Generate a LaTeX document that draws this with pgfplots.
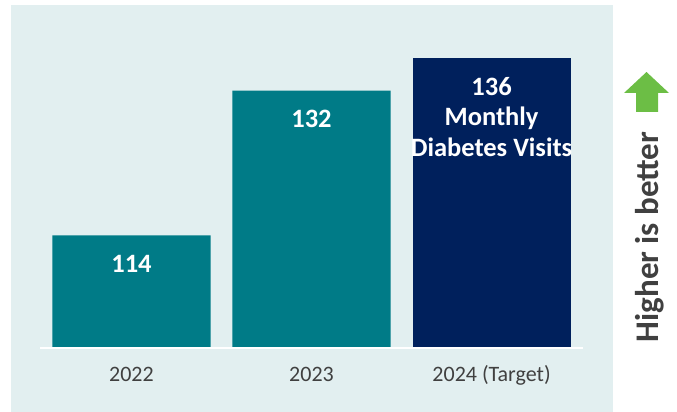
\documentclass[border=0pt]{standalone}
\usepackage{fontspec}
\setmainfont{Carlito}
\usepackage{pgfplots}
\pgfplotsset{compat=1.18}

\definecolor{panel}{HTML}{E2EFF0}
\definecolor{tealbar}{HTML}{007B87}
\definecolor{navybar}{HTML}{00205C}
\definecolor{arrowgreen}{HTML}{6CBE45}
\definecolor{darktext}{HTML}{404040}

\begin{document}
\begin{tikzpicture}[x=1pt,y=1pt]
\path[use as bounding box] (0,0) rectangle (677,412);
% light panel behind the chart
\fill[panel] (11,0) rectangle (613,407);

\begin{axis}[
  at={(40pt,64pt)}, anchor=south west,
  scale only axis,
  width=543pt, height=337.9pt,
  xmin=-0.508, xmax=2.508,
  ymin=100, ymax=142,
  axis line style={draw=none},
  ytick=\empty,
  xtick={0,1,2},
  xticklabels={2022,2023,2024 (Target)},
  major tick length=0pt,
  xticklabel style={anchor=base, yshift=-34pt, text=darktext,
    font=\fontsize{22}{26}\selectfont},
]
\addplot[ybar, bar shift=0pt, bar width=0.878, fill=tealbar, draw=none]
  coordinates {(0,114) (1,132)};
\addplot[ybar, bar shift=0pt, bar width=0.878, fill=navybar, draw=none]
  coordinates {(2,136)};

\tikzset{lbl/.style={text=white, anchor=base, inner sep=0pt,
  font=\bfseries\fontsize{26.5}{30}\selectfont}}
\node[lbl, yshift=-37pt] at (axis cs:0,114) {114};
\node[lbl, yshift=-37pt] at (axis cs:1,132) {132};
\node[lbl, yshift=-37pt] at (axis cs:2,136) {136};
\node[lbl, yshift=-67pt] at (axis cs:2,136) {Monthly};
\node[lbl, yshift=-98pt] at (axis cs:2,136) {Diabetes Visits};
\end{axis}

% baseline
\draw[white, line width=1.5pt] (40,64) -- (583,64);

% "higher is better" marker
\fill[arrowgreen] (646.5,340) -- (669,319) -- (658,319) -- (658,300)
  -- (636,300) -- (636,319) -- (624,319) -- cycle;
\node[rotate=90, text=darktext, font=\bfseries\fontsize{33}{38}\selectfont]
  at (650,175) {Higher is better};
\end{tikzpicture}
\end{document}
